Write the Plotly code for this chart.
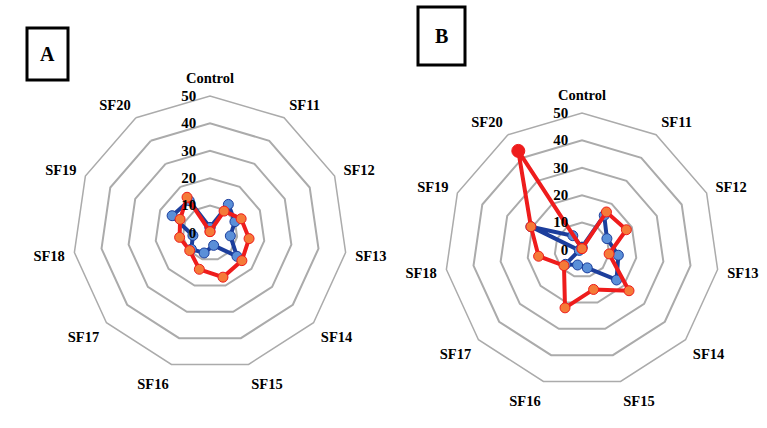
import plotly.graph_objects as go

# Radar categories (clockwise from top)
categories = ["Control", "SF11", "SF12", "SF13", "SF14", "SF15",
              "SF16", "SF17", "SF18", "SF19", "SF20"]
radial_ticks = [0, 10, 20, 30, 40, 50]

# Panel A
a_red = [0.5, 9.5, 12.5, 14.4, 15.4, 16.8, 13.8, 9.8, 11.2, 12.0, 15.5]
a_blue = [2.0, 12.4, 10.0, 7.5, 13.0, 4.7, 7.6, 9.0, 6.3, 15.2, 14.0]

# Panel B
b_red = [0.5, 16.5, 17.8, 10.0, 22.7, 15.0, 22.0, 8.7, 16.0, 20.5, 43.0]
b_blue = [1.0, 15.0, 10.0, 13.4, 16.7, 6.8, 5.7, 8.0, 1.0, 20.5, 6.2]

RED_LINE = "#EE1C1C"
RED_MARK = "#F57A38"
BLUE_LINE = "#1C3E9C"
BLUE_MARK = "#5A8FD8"
GRID = "#ABABAB"
SERIF = "Liberation Serif"


def closed(vals):
    return list(vals) + [vals[0]]


theta = closed(categories)

fig = go.Figure()


def red_trace(vals, subplot, big_last=False):
    colors = [RED_MARK] * len(vals)
    sizes = [10] * len(vals)
    if big_last:
        colors[-1] = RED_LINE
        sizes[-1] = 13
    return go.Scatterpolar(
        r=closed(vals), theta=theta, mode="lines+markers",
        line=dict(color=RED_LINE, width=4),
        marker=dict(color=closed(colors), size=closed(sizes), opacity=1,
                    line=dict(color=RED_LINE, width=1)),
        subplot=subplot, showlegend=False)


def blue_trace(vals, subplot):
    return go.Scatterpolar(
        r=closed(vals), theta=theta, mode="lines+markers",
        line=dict(color=BLUE_LINE, width=4),
        marker=dict(color=BLUE_MARK, size=10, opacity=1,
                    line=dict(color=BLUE_LINE, width=1)),
        subplot=subplot, showlegend=False)


fig.add_trace(blue_trace(a_blue, "polar"))
fig.add_trace(red_trace(a_red, "polar"))
fig.add_trace(blue_trace(b_blue, "polar2"))
fig.add_trace(red_trace(b_red, "polar2", big_last=True))

W, H = 767, 428
R = 137


def dom(cx, cy):
    return dict(x=[(cx - R) / W, (cx + R) / W],
                y=[1 - (cy + R) / H, 1 - (cy - R) / H])


def polar_style(cx, cy):
    return dict(
        domain=dom(cx, cy),
        bgcolor="white",
        gridshape="linear",
        radialaxis=dict(
            range=[0, 50], tickvals=radial_ticks, angle=90,
            side="counterclockwise", tickangle=90,
            showline=False, ticks="outside", ticklen=8,
            tickcolor="rgba(0,0,0,0)", gridcolor=GRID, gridwidth=1.5,
            tickfont=dict(family=SERIF, size=15, color="black", weight="bold"),
        ),
        angularaxis=dict(
            rotation=90, direction="clockwise", showgrid=False,
            ticks="outside", ticklen=6, tickcolor="rgba(0,0,0,0)",
            showline=True, linecolor=GRID, linewidth=1.5,
            categoryorder="array", categoryarray=categories,
            tickfont=dict(family=SERIF, size=14.5, color="black", weight="bold"),
        ),
    )


fig.update_layout(
    width=W, height=H,
    margin=dict(l=0, r=0, t=0, b=0),
    paper_bgcolor="white",
    polar=polar_style(210, 233),
    polar2=polar_style(582, 250),
)

# Boxed panel letters
for letter, x0, y0, x1, y1 in [("A", 27, 28, 68, 80), ("B", 418, 7, 465, 65)]:
    fig.add_shape(type="rect", xref="paper", yref="paper",
                  x0=x0 / W, x1=x1 / W, y0=1 - y1 / H, y1=1 - y0 / H,
                  line=dict(color="black", width=3))
    fig.add_annotation(text=letter, xref="paper", yref="paper",
                       x=(x0 + x1) / 2 / W, y=1 - (y0 + y1) / 2 / H,
                       xanchor="center", yanchor="middle", showarrow=False,
                       font=dict(family=SERIF, size=20, color="black", weight="bold"))

fig.write_html("out.html")
